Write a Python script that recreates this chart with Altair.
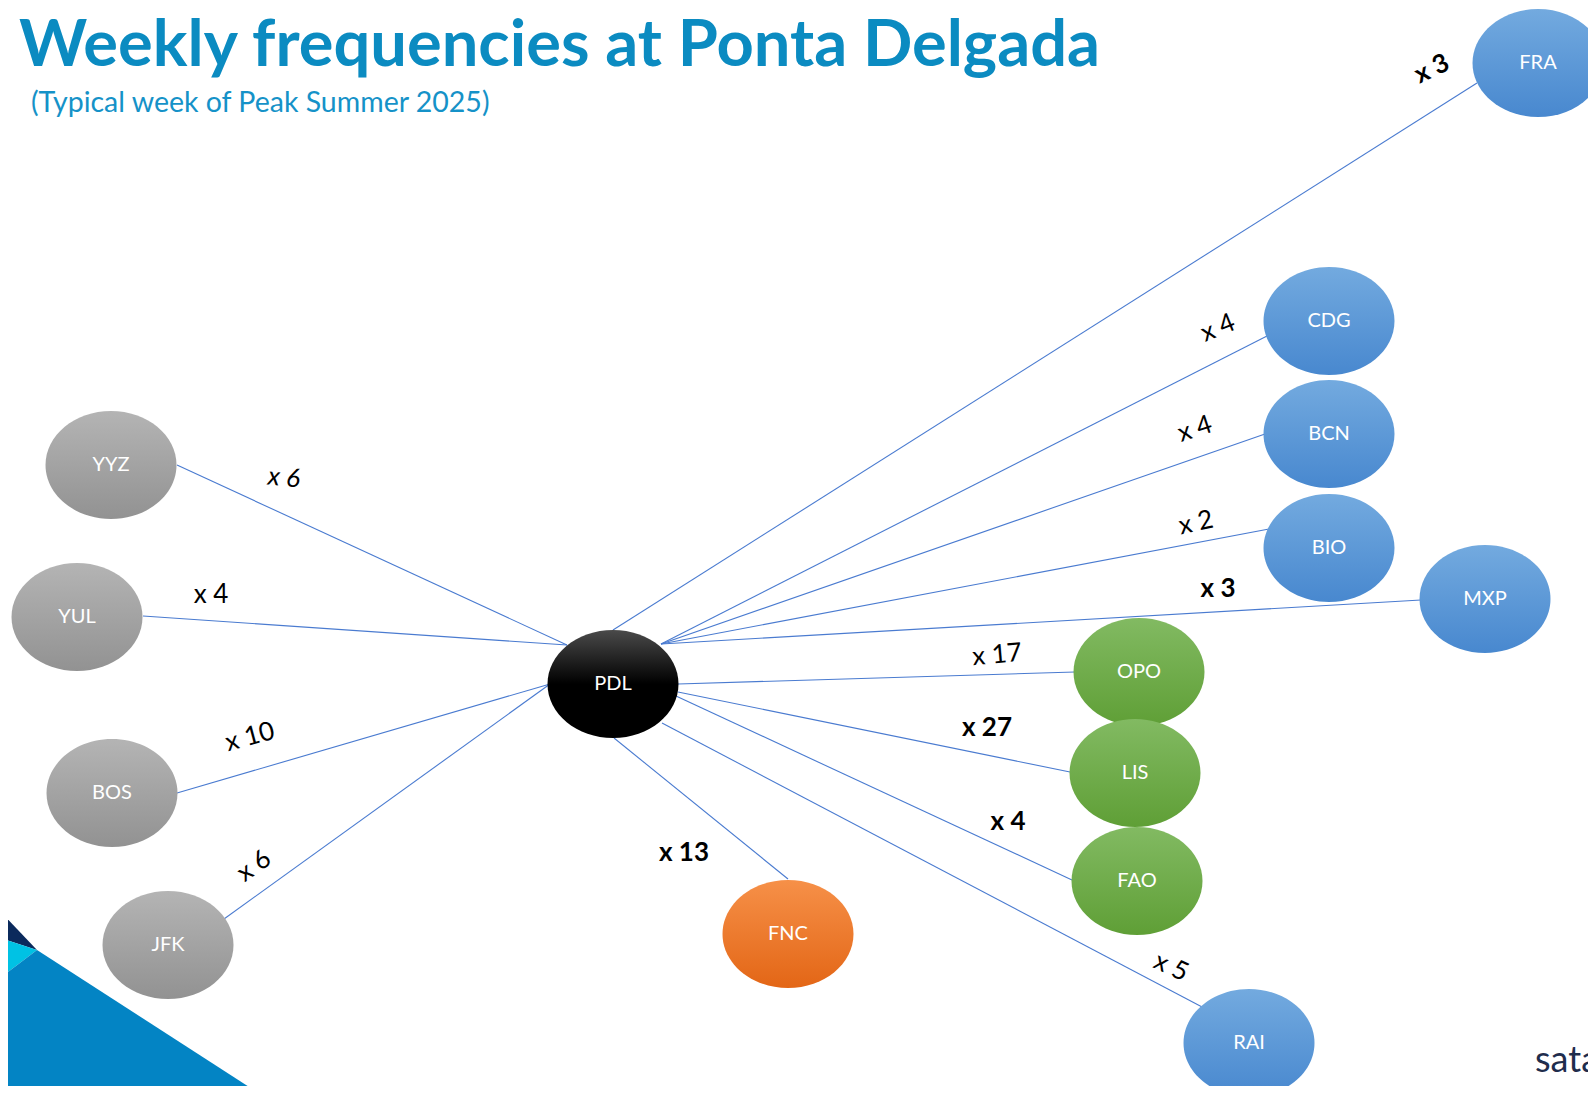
import altair as alt
import pandas as pd

# ---------------- data ----------------
title_text = "Weekly frequencies at Ponta Delgada"
subtitle_text = "(Typical week of Peak Summer 2025)"
logo_text = "sata"

node_code = ["PDL", "FRA", "CDG", "BCN", "BIO", "MXP", "OPO", "LIS", "FAO",
             "RAI", "FNC", "YYZ", "YUL", "BOS", "JFK"]
node_x = [613, 1538, 1329, 1329, 1329, 1485, 1139, 1135, 1137, 1249, 788, 111, 77, 112, 168]
node_y = [684, 63, 321, 434, 548, 599, 672, 773, 881, 1043, 934, 465, 617, 793, 945]
node_group = ["hub", "blue", "blue", "blue", "blue", "blue", "green", "green", "green",
              "blue", "orange", "gray", "gray", "gray", "gray"]

edge_dest = ["FRA", "CDG", "BCN", "BIO", "MXP", "OPO", "LIS", "FAO", "RAI", "FNC",
             "YYZ", "YUL", "BOS", "JFK"]
edge_freq = [3, 4, 4, 2, 3, 17, 27, 4, 5, 13, 6, 4, 10, 6]
edge_start_x = [613, 661, 661, 661, 661, 678, 678, 676, 662, 614, 567, 567, 550, 550]
edge_start_y = [630, 644, 644, 644, 644, 684, 692, 696, 723, 738, 645, 645, 684, 684]
edge_end_x = [1477, 1267, 1265, 1269, 1421, 1075, 1070, 1072, 1204, 788, 177, 143, 177, 224]
edge_end_y = [83, 336, 434, 529, 600, 672, 772, 880, 1008, 879, 465, 616, 793, 919]
label_x = [1432, 1218, 1195, 1196, 1218, 997, 987, 1008, 1171, 684, 284, 211, 250, 254]
label_y = [69, 328, 429, 523, 589, 655, 728, 822, 967, 853, 478, 595, 737, 866]
label_angle = [-25, -22, -18, -12, 0, -5, 0, 0, 25, 0, 5, 0, -15, -35]
label_style = ["bold", "normal", "normal", "normal", "bold", "normal", "bold", "bold",
               "normal", "bold", "italic", "normal", "normal", "normal"]

# corner decoration (bottom-left)
deco_navy_x = [0, 37]
deco_navy_top = [911, 950]
deco_navy_bottom = [938, 950]
deco_cyan_x = [0, 37]
deco_cyan_top = [938, 950]
deco_cyan_bottom = [978, 950]
deco_blue_x = [0, 37, 260]
deco_blue_top = [978, 950, 1094]
deco_blue_bottom = [1094, 1094, 1094]

# ---------------- tables ----------------
nodes = pd.DataFrame({"code": node_code, "x": node_x, "y": node_y, "group": node_group})
edges = pd.DataFrame({
    "dest": edge_dest,
    "x1": edge_start_x, "y1": edge_start_y,
    "x2": edge_end_x, "y2": edge_end_y,
    "lx": label_x, "ly": label_y,
    "angle": [(a + 360) % 360 for a in label_angle],
    "style": label_style,
    "label": ["x " + str(f) for f in edge_freq],
})

XS = alt.Scale(domain=[8, 1588])
YS = alt.Scale(domain=[8, 1086], reverse=True)


def X(f):
    return alt.X(f, type="quantitative", scale=XS, axis=None)


def Y(f):
    return alt.Y(f, type="quantitative", scale=YS, axis=None)


def grad(stops):
    return alt.LinearGradient(
        gradient="linear", x1=0, x2=0, y1=0, y2=1,
        stops=[alt.GradientStop(color=c, offset=o) for o, c in stops],
    )


# ---------------- decoration ----------------
def deco(xs, top, bottom, color):
    df = pd.DataFrame({"x": xs, "top": top, "bottom": bottom})
    return alt.Chart(df).mark_area(color=color, opacity=1, clip=True).encode(
        x=X("x"), y=Y("top"), y2=alt.Y2("bottom")
    )


deco_layers = [
    deco(deco_navy_x, deco_navy_top, deco_navy_bottom, "#0b2a5c"),
    deco(deco_cyan_x, deco_cyan_top, deco_cyan_bottom, "#00c2e4"),
    deco(deco_blue_x, deco_blue_top, deco_blue_bottom, "#0384c4"),
]

# ---------------- edges ----------------
edge_layer = alt.Chart(edges).mark_rule(color="#4a7bd0", strokeWidth=1.1).encode(
    x=X("x1"), y=Y("y1"), x2=alt.X2("x2"), y2=alt.Y2("y2")
)

# ---------------- nodes (ellipses) ----------------
k = 0.5523
r = 108 / 131
ellipse = (
    f"M -1 0 C -1 {-k*r:.4f} {-k:.4f} {-r:.4f} 0 {-r:.4f} "
    f"C {k:.4f} {-r:.4f} 1 {-k*r:.4f} 1 0 "
    f"C 1 {k*r:.4f} {k:.4f} {r:.4f} 0 {r:.4f} "
    f"C {-k:.4f} {r:.4f} -1 {k*r:.4f} -1 0 Z"
)
node_size = 131 * 131

group_fill = {
    "gray": grad([(0, "#b4b4b4"), (1, "#929292")]),
    "blue": grad([(0, "#73aadf"), (1, "#4888cf")]),
    "green": grad([(0, "#82ba62"), (1, "#5f9f36")]),
    "orange": grad([(0, "#f69048"), (1, "#e36616")]),
    "hub": grad([(0, "#4a4a4a"), (0.5, "#000000"), (1, "#000000")]),
}

node_layers = []
for g, fill in group_fill.items():
    node_layers.append(
        alt.Chart(nodes).transform_filter(alt.datum.group == g)
        .mark_point(shape=ellipse, size=node_size, filled=True, fill=fill,
                    opacity=1, strokeWidth=0)
        .encode(x=X("x"), y=Y("y"))
    )

node_text = alt.Chart(nodes).mark_text(
    font="Lato", fontSize=20, color="white", align="center", baseline="middle"
).encode(x=X("x"), y=Y("y"), text="code:N")

# ---------------- edge labels ----------------
label_layers = []
for st, weight, fstyle in [("bold", "bold", "normal"), ("normal", "normal", "normal"),
                            ("italic", "normal", "italic")]:
    label_layers.append(
        alt.Chart(edges).transform_filter(alt.datum.style == st)
        .mark_text(font="Lato", fontSize=26, fontWeight=weight, fontStyle=fstyle,
                   color="black", align="center", baseline="middle")
        .encode(x=X("lx"), y=Y("ly"), text="label:N",
                angle=alt.Angle("angle:Q", scale=None))
    )

# ---------------- titles & logo ----------------
title = alt.Chart(pd.DataFrame({"x": [19], "y": [66], "t": [title_text]})).mark_text(
    font="Lato", fontSize=65, fontWeight="bold", color="#0b8bc1",
    align="left", baseline="alphabetic"
).encode(x=X("x"), y=Y("y"), text="t:N")

subtitle = alt.Chart(pd.DataFrame({"x": [31], "y": [112], "t": [subtitle_text]})).mark_text(
    font="Lato", fontSize=28.5, color="#1592c8", align="left", baseline="alphabetic"
).encode(x=X("x"), y=Y("y"), text="t:N")

logo = alt.Chart(pd.DataFrame({"x": [1535], "y": [1072], "t": [logo_text]})).mark_text(
    font="Lato", fontSize=36, color="#1f2d4d", align="left", baseline="alphabetic", clip=True
).encode(x=X("x"), y=Y("y"), text="t:N")

chart = alt.layer(
    *deco_layers, edge_layer, *node_layers, node_text, *label_layers, title, subtitle, logo
).properties(
    width=1580, height=1078, padding=0, autosize="none", background="white"
).configure_view(stroke=None)

chart.save("out.html", embed_options={"renderer": "svg", "actions": False})
